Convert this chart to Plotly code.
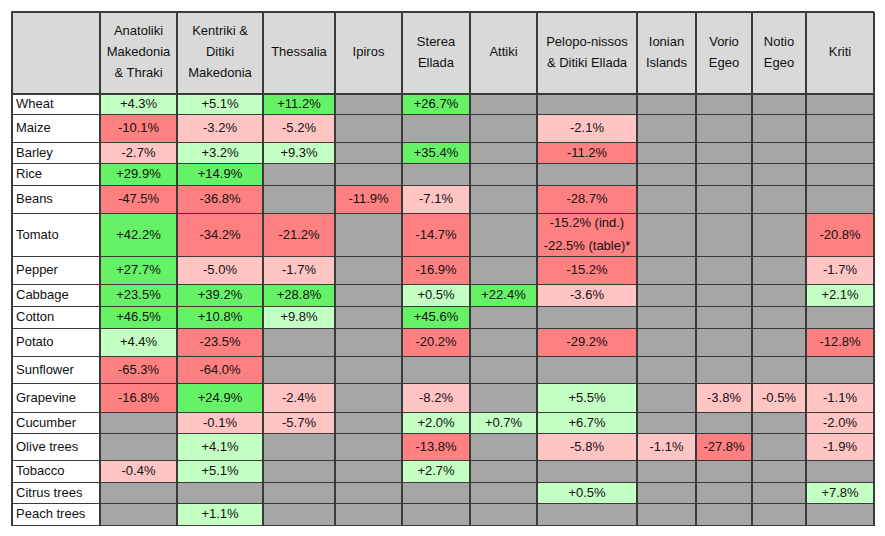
import plotly.graph_objects as go

# ---------------- data ----------------
regions = ["Anatoliki<br>Makedonia<br>& Thraki", "Kentriki &<br>Ditiki<br>Makedonia", "Thessalia",
           "Ipiros", "Sterea<br>Ellada", "Attiki", "Pelopo-nissos<br>& Ditiki Ellada",
           "Ionian<br>Islands", "Vorio<br>Egeo", "Notio<br>Egeo", "Kriti"]
crops = ["Wheat", "Maize", "Barley", "Rice", "Beans", "Tomato", "Pepper", "Cabbage", "Cotton",
         "Potato", "Sunflower", "Grapevine", "Cucumber", "Olive trees", "Tobacco",
         "Citrus trees", "Peach trees"]
N = None
anatoliki = [4.3, -10.1, -2.7, 29.9, -47.5, 42.2, 27.7, 23.5, 46.5, 4.4, -65.3, -16.8, N, N, -0.4, N, N]
kentriki = [5.1, -3.2, 3.2, 14.9, -36.8, -34.2, -5.0, 39.2, 10.8, -23.5, -64.0, 24.9, -0.1, 4.1, 5.1, N, 1.1]
thessalia = [11.2, -5.2, 9.3, N, N, -21.2, -1.7, 28.8, 9.8, N, N, -2.4, -5.7, N, N, N, N]
ipiros = [N, N, N, N, -11.9, N, N, N, N, N, N, N, N, N, N, N, N]
sterea = [26.7, N, 35.4, N, -7.1, -14.7, -16.9, 0.5, 45.6, -20.2, N, -8.2, 2.0, -13.8, 2.7, N, N]
attiki = [N, N, N, N, N, N, N, 22.4, N, N, N, N, 0.7, N, N, N, N]
peloponnisos = [N, -2.1, -11.2, N, -28.7, -15.2, -15.2, -3.6, N, -29.2, N, 5.5, 6.7, -5.8, N, 0.5, N]
ionian = [N, N, N, N, N, N, N, N, N, N, N, N, N, -1.1, N, N, N]
vorio = [N, N, N, N, N, N, N, N, N, N, N, -3.8, N, -27.8, N, N, N]
notio = [N, N, N, N, N, N, N, N, N, N, N, -0.5, N, N, N, N, N]
kriti = [N, N, N, N, N, -20.8, -1.7, 2.1, N, -12.8, N, -1.1, -2.0, -1.9, N, 7.8, N]
values = [anatoliki, kentriki, thessalia, ipiros, sterea, attiki, peloponnisos, ionian, vorio, notio, kriti]
# special cell label (Tomato, Pelopo-nissos)
special_labels = {("Tomato", 6): "-15.2% (ind.)<br>-22.5% (table)*"}

# ---------------- layout / style ----------------
W, H = 885, 536
PAGE_MARGIN = 8  # default body margin of the html page
left, top = 12, 12
col_widths = [88, 77, 86, 72, 67, 68, 67, 100, 59, 56, 54, 68]
header_height = 82
row_heights = [21, 28, 21, 22, 28, 43, 28, 22, 22, 28, 27, 29, 21, 27, 22, 21, 22]
line_spacing = 21
special_spacing = 23
FONT = "Liberation Sans, Arial, sans-serif"
FS = 13
C_GRAY = "#A6A6A6"
C_HEADER = "#D9D9D9"
C_GREEN = "#66F266"
C_LGREEN = "#C4FFC4"
C_RED = "#FF8080"
C_LRED = "#FFC4C4"
C_BORDER = "#3A3A3A"


def cell_color(v):
    if v is None:
        return C_GRAY
    if v >= 10:
        return C_GREEN
    if v >= 0:
        return C_LGREEN
    if v > -10:
        return C_LRED
    return C_RED


# column boundaries
xb = [left]
for w in col_widths:
    xb.append(xb[-1] + w)
xc = [(xb[i] + xb[i + 1]) / 2 for i in range(len(col_widths))]
heights = [header_height] + row_heights
yb = [top]
for h in heights:
    yb.append(yb[-1] + h)
yc = [(yb[i] + yb[i + 1]) / 2 for i in range(len(heights))]

fig = go.Figure()

# cell backgrounds as bars (one trace per column)
for j in range(len(col_widths)):
    if j == 0:
        colors = [C_HEADER] + ["white"] * len(crops)
    else:
        colors = [C_HEADER] + [cell_color(v) for v in values[j - 1]]
    fig.add_trace(go.Bar(
        x=[xc[j]] * len(heights), y=heights, base=yb[:-1], width=[col_widths[j]] * len(heights),
        marker=dict(color=colors, line=dict(color=C_BORDER, width=1)),
        hoverinfo="skip", showlegend=False))

# texts
tx, ty, tt = [], [], []


def add_lines(x, ycen, label, spacing):
    lines = label.split("<br>")
    n = len(lines)
    for k, ln in enumerate(lines):
        tx.append(x)
        ty.append(ycen + (k - (n - 1) / 2) * spacing)
        tt.append(ln)


for j, reg in enumerate(regions):
    add_lines(xc[j + 1], yc[0], reg, line_spacing)
for i, crop in enumerate(crops):
    for j in range(len(regions)):
        v = values[j][i]
        if v is None:
            continue
        label = special_labels.get((crop, j), f"{v:+.1f}%")
        add_lines(xc[j + 1], yc[i + 1], label, special_spacing)

fig.add_trace(go.Scatter(x=tx, y=ty, text=tt, mode="text", textposition="middle center",
                         textfont=dict(family=FONT, size=FS, color="#111111"),
                         hoverinfo="skip", showlegend=False))
fig.add_trace(go.Scatter(x=[left + 4] * len(crops), y=yc[1:], text=crops, mode="text",
                         textposition="middle right",
                         textfont=dict(family=FONT, size=FS, color="#111111"),
                         hoverinfo="skip", showlegend=False))

# thicker vertical separators and outer frame
lx, ly = [], []
for x in xb:
    lx += [x, x, None]
    ly += [yb[0], yb[-1], None]
for y in (yb[0], yb[1]):
    lx += [xb[0], xb[-1], None]
    ly += [y, y, None]
fig.add_trace(go.Scatter(x=lx, y=ly, mode="lines", line=dict(color=C_BORDER, width=2),
                         hoverinfo="skip", showlegend=False))

fig.update_layout(
    width=W - 2 * PAGE_MARGIN, height=H - 2 * PAGE_MARGIN, margin=dict(l=0, r=0, t=0, b=0),
    paper_bgcolor="white", plot_bgcolor="white", barmode="overlay", bargap=0,
    xaxis=dict(range=[PAGE_MARGIN, W - PAGE_MARGIN], visible=False, fixedrange=True),
    yaxis=dict(range=[H - PAGE_MARGIN, PAGE_MARGIN], visible=False, fixedrange=True),
)
fig.write_html("out.html")
